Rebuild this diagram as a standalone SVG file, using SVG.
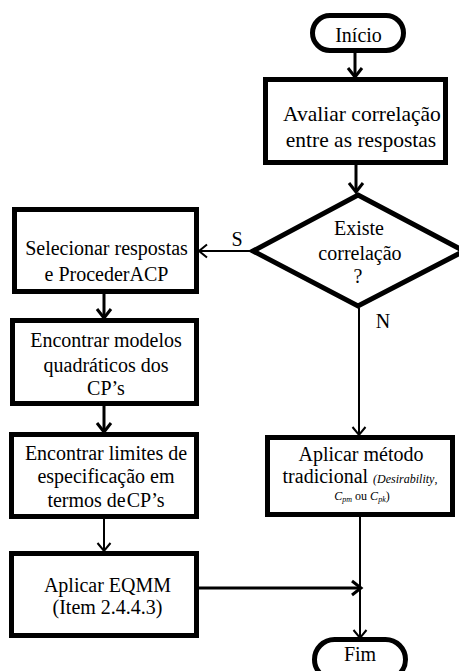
<svg xmlns="http://www.w3.org/2000/svg" width="459" height="671" viewBox="0 0 459 671">
<defs>
<style>
.shape{fill:#fff;stroke:#000;stroke-width:5;stroke-linejoin:miter}
.t{font-family:"Liberation Serif","Times New Roman",serif;font-size:20px;fill:#000;text-anchor:middle}
.big{font-size:21.5px}
.thick{stroke:#000;stroke-width:3;fill:none}
.thin{stroke:#000;stroke-width:2;fill:none}
</style>
<marker id="ah" markerUnits="userSpaceOnUse" markerWidth="16" markerHeight="18" viewBox="-2 -2 16 18" refX="10" refY="7" orient="auto">
<polyline points="1,0 10,7 1,14" fill="none" stroke="#000" stroke-width="3"/>
</marker>
<marker id="ahs" markerUnits="userSpaceOnUse" markerWidth="16" markerHeight="18" viewBox="-2 -2 16 18" refX="10" refY="6.5" orient="auto">
<polyline points="2,0 10,6.5 2,13" fill="none" stroke="#000" stroke-width="2"/>
</marker>
</defs>
<rect width="459" height="671" fill="#fff"/>
<g id="connectors">
<line class="thick" x1="355" y1="53" x2="355" y2="77" marker-end="url(#ah)"/>
<line class="thick" x1="356" y1="165" x2="356" y2="192" marker-end="url(#ah)"/>
<line class="thin" x1="251" y1="251" x2="199" y2="251" marker-end="url(#ahs)"/>
<line class="thin" x1="359" y1="308" x2="359" y2="435" marker-end="url(#ahs)"/>
<line class="thick" x1="104" y1="294" x2="104" y2="318" marker-end="url(#ah)"/>
<line class="thick" x1="104" y1="406" x2="104" y2="432" marker-end="url(#ah)"/>
<line class="thin" x1="104" y1="519" x2="104" y2="551" marker-end="url(#ahs)"/>
<line class="thick" x1="199" y1="588" x2="361" y2="588" marker-end="url(#ah)"/>
<line class="thin" x1="360" y1="517" x2="360" y2="638" marker-end="url(#ahs)"/>
<text class="t" x="237" y="246">S</text>
<text class="t" x="383" y="328">N</text>
</g>
<g id="inicio">
<rect class="shape" x="312.5" y="15.5" width="91" height="35" rx="17.5"/>
<text class="t" x="358.5" y="42">Início</text>
</g>
<g id="avaliar">
<rect class="shape" x="265.5" y="79.5" width="180" height="83"/>
<text class="t big" x="362" y="121">Avaliar correlação</text>
<text class="t big" x="361" y="147">entre as respostas</text>
</g>
<g id="decisao">
<polygon class="shape" points="358,195 464,251 358,306 253,251"/>
<text class="t" x="359" y="235">Existe</text>
<text class="t" x="360" y="260">correlação</text>
<text class="t" x="358" y="283">?</text>
</g>
<g id="selecionar">
<rect class="shape" x="14.5" y="209.5" width="182" height="82"/>
<text class="t" x="106.5" y="255">Selecionar respostas</text>
<text class="t" x="106.5" y="281">e ProcederACP</text>
</g>
<g id="modelos">
<rect class="shape" x="12.5" y="320.5" width="184" height="83"/>
<text class="t" x="106" y="347">Encontrar modelos</text>
<text class="t" x="106" y="372">quadráticos dos</text>
<text class="t" x="106" y="395">CP’s</text>
</g>
<g id="limites">
<rect class="shape" x="11.5" y="434.5" width="185" height="82"/>
<text class="t" x="106" y="460">Encontrar limites de</text>
<text class="t" x="106" y="483">especificação em</text>
<text class="t" x="106" y="507">termos de<tspan dx="1">CP’s</tspan></text>
</g>
<g id="eqmm">
<rect class="shape" x="11.5" y="553.5" width="185" height="82"/>
<text class="t" x="107.5" y="592">Aplicar EQMM</text>
<text class="t" x="107.5" y="614">(Item 2.4.4.3)</text>
</g>
<g id="tradicional">
<rect class="shape" x="267.5" y="437.5" width="185" height="77"/>
<text class="t" x="361" y="461">Aplicar método</text>
<text class="t" x="360" y="483">tradicional <tspan font-size="12" font-style="italic">(Desirability</tspan><tspan font-size="12">,</tspan></text>
<text class="t" x="362" y="500" style="font-size:12px"><tspan font-style="italic">C</tspan><tspan font-style="italic" font-size="8" dy="2">pm</tspan><tspan dy="-2"> ou </tspan><tspan font-style="italic">C</tspan><tspan font-style="italic" font-size="8" dy="2">pk</tspan><tspan dy="-2">)</tspan></text>
</g>
<g id="fim">
<rect class="shape" x="314.5" y="639.5" width="91" height="40" rx="20"/>
<text class="t" x="360" y="661">Fim</text>
</g>
</svg>
